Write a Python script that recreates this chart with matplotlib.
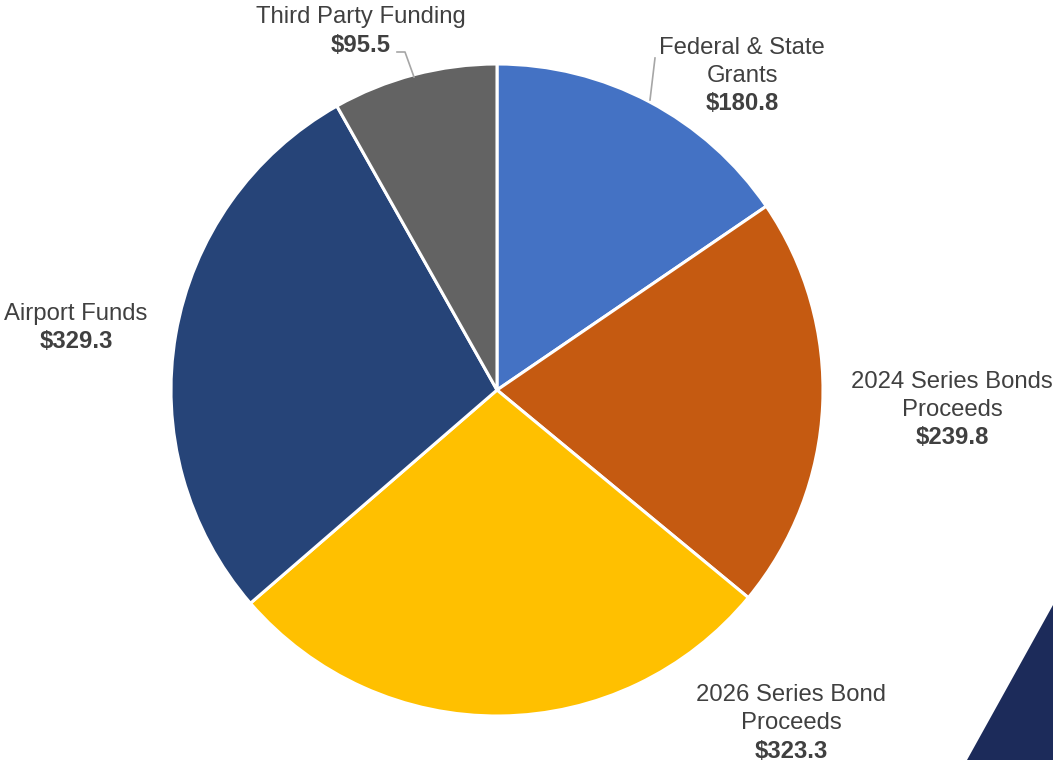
import matplotlib
matplotlib.use("Agg")
import matplotlib.pyplot as plt
from matplotlib.patches import Polygon

plt.rcParams['font.family'] = ['Liberation Sans', 'DejaVu Sans']

categories = ["Federal & State\nGrants", "2024 Series Bonds\nProceeds", "2026 Series Bond\nProceeds",
              "Airport Funds", "Third Party Funding"]
values = [180.8, 239.8, 323.3, 329.3, 95.5]
colors = ["#4472C4", "#C55A11", "#FFC000", "#264478", "#636363"]

W, H = 1053, 760
fig = plt.figure(figsize=(W / 100, H / 100), dpi=100)
ax = fig.add_axes([0, 0, 1, 1])
ax.set_xlim(0, W)
ax.set_ylim(0, H)
ax.set_aspect('equal')
ax.axis('off')

def Y(y):
    return H - y

# decorative triangle bottom right
ax.add_patch(Polygon([(1053, Y(605)), (967, Y(760)), (1053, Y(760))], closed=True,
                     facecolor="#1C2B5A", edgecolor="none"))

ax.pie(values, colors=colors, startangle=90, counterclock=False,
       center=(497, Y(390)), radius=326, frame=True,
       wedgeprops=dict(edgecolor="white", linewidth=2.2))
ax.set_xlim(0, W)
ax.set_ylim(0, H)
ax.axis('off')

label_pos = [(742, 76), (952, 410), (791, 723), (76, 328), (361, 31)]
tc = "#404040"
for cat, v, (x, y) in zip(categories, values, label_pos):
    n = cat.count("\n") + 1
    lh = 28
    top = y - (n + 1) * lh / 2 + lh / 2
    for i, line in enumerate(cat.split("\n")):
        ax.text(x, Y(top + i * lh), line, ha='center', va='center', fontsize=17.2, color=tc)
    ax.text(x, Y(top + n * lh), f"${v:.1f}", ha='center', va='center', fontsize=17.2,
            color=tc, fontweight='bold')

# leader lines
ax.plot([397, 405, 414], [Y(52), Y(52), Y(77)], color="#A6A6A6", lw=1.2)
ax.plot([655, 650], [Y(58), Y(100)], color="#A6A6A6", lw=1.2)

fig.savefig("out.png", dpi=100)
